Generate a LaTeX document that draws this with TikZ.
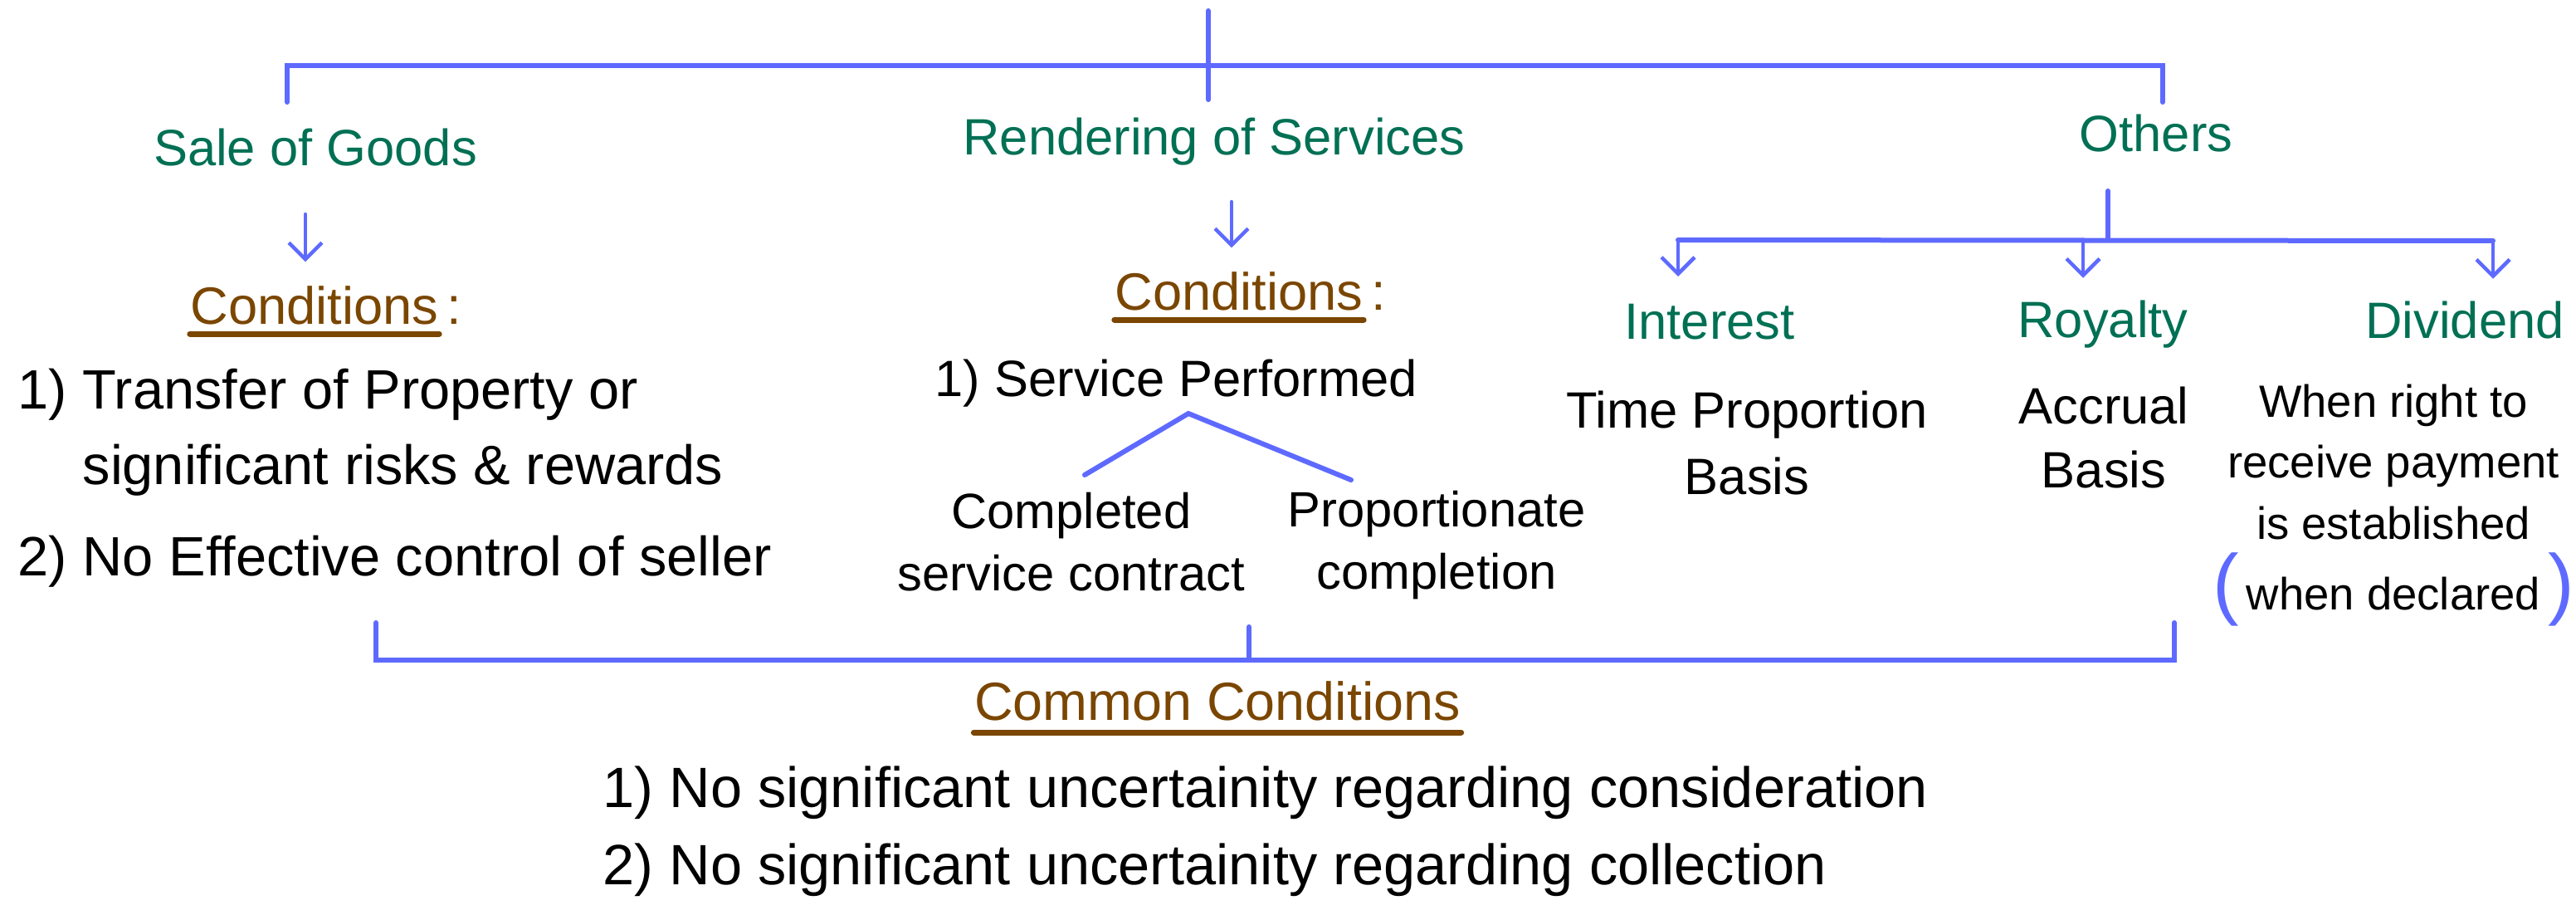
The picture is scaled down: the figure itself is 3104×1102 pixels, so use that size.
\documentclass[tikz,border=0pt]{standalone}
\usepackage{fontspec}
\setmainfont{Liberation Sans}
\usetikzlibrary{arrows.meta,positioning}
\definecolor{penblue}{RGB}{94,106,255}
\definecolor{pengreen}{RGB}{0,112,84}
\definecolor{penbrown}{RGB}{122,70,0}
\tikzset{
  basic/.style  = {inner sep=0pt, font=\fontsize{17.5}{22}\selectfont},
  head/.style   = {basic, text=pengreen},
  cond/.style   = {basic, text=penbrown, font=\fontsize{18}{22}\selectfont},
  item/.style   = {basic, align=left, font=\fontsize{19}{26}\selectfont},
  note/.style   = {basic, align=center},
  link/.style   = {draw=penblue, line width=0.6mm, line cap=round},
  uline/.style  = {draw=penbrown, line width=0.7mm, line cap=round},
  arr/.style    = {link, line width=0.45mm, -{Straight Barb[length=2mm,width=4mm]}}
}
\newcommand{\bluepar}[1]{{\color{penblue}\fontsize{27}{24}\selectfont#1}}

\begin{document}
\begin{tikzpicture}[x=0.1mm,y=-0.1mm]
\useasboundingbox (0,0) rectangle (3104,1102);

% main heads
\node[head, anchor=base] (sog) at (380,200) {Sale of Goods};
\node[head, anchor=base] (ros) at (1463,187) {Rendering of Services};
\node[head, anchor=base] (oth) at (2598,182) {Others};

% top bracket
\coordinate (root) at (1456,13);
\coordinate (rosT) at (1456,120);
\coordinate (bar) at (1456,79);
\coordinate (sogT) at (346,123);
\coordinate (othT) at (2606,123);
\draw[link] (root) -- (rosT);
\draw[link] (sogT) -- (sogT |- bar) -- (othT |- bar) -- (othT);

% sale of goods
\node[cond, anchor=base] (cond1) at (379,390) {Conditions\rlap{\,:}};
\draw[uline] ([yshift=-1.2mm]cond1.base west) -- ([yshift=-1.2mm]cond1.base east);
\coordinate (sogA) at (368,258);
\draw[arr, shorten >=2.8mm] (sogA) -- (sogA |- cond1.north);
\node[item, anchor=north west] (it1) at (21,443)
  {1) Transfer of Property or\\\phantom{1) }significant risks \& rewards};
\node[item, anchor=base west] (it2) at (21,693) {2) No Effective control of seller};

% rendering of services
\node[cond, anchor=base] (cond2) at (1493,373) {Conditions\rlap{\,:}};
\draw[uline] ([yshift=-1.2mm]cond2.base west) -- ([yshift=-1.2mm]cond2.base east);
\coordinate (rosA) at (1484,243);
\draw[arr, shorten >=2.8mm] (rosA) -- (rosA |- cond2.north);
\node[basic, anchor=base west] (sp) at (1126,477) {1) Service Performed};
\coordinate (spv) at (1432,498);
\coordinate (spl) at (1307,572);
\coordinate (spr) at (1628,578);
\draw[link] (spl) -- (spv) -- (spr);
\node[note, anchor=north, font=\fontsize{17}{21.6}\selectfont] (comp) at (1291,592)
  {Completed\\service contract};
\node[note, anchor=north, font=\fontsize{17}{21.6}\selectfont] (prop) at (1731,590)
  {Proportionate\\completion};

% others
\coordinate (othB) at (2540,230);
\coordinate (intT) at (2022,289);
\coordinate (royT) at (2510,289);
\coordinate (divT) at (3004,290);
\draw[link] (othB) -- (othB |- intT);
\draw[link] (intT) -- (divT);
\node[head, anchor=base] (int) at (2060,408) {Interest};
\node[head, anchor=base] (roy) at (2534,406) {Royalty};
\node[head, anchor=base] (div) at (2970,407) {Dividend};
\draw[arr, shorten >=3.2mm] (intT) -- (intT |- int.north);
\draw[arr, shorten >=2.6mm] (royT) -- (royT |- roy.north);
\draw[arr, shorten >=2.6mm] (divT) -- (divT |- div.north);
\node[note, anchor=north, font=\fontsize{17.5}{22.7}\selectfont] (tpb) at (2105,470)
  {Time Proportion\\Basis};
\node[note, anchor=north, font=\fontsize{17.5}{22}\selectfont] (acb) at (2535,465)
  {Accrual\\Basis};
\node[note, anchor=north, font=\fontsize{15.5}{21}\selectfont] (rtr) at (2884,462)
  {When right to\\receive payment\\is established\\[3pt]
   \bluepar{(}\,when declared\,\bluepar{)}};

% bottom bracket
\coordinate (bL) at (453,750);
\coordinate (bR) at (2620,750);
\coordinate (bTick) at (1505,755);
\coordinate (bbar) at (1505,795);
\draw[link] (bL) -- (bL |- bbar) -- (bR |- bbar) -- (bR);
\draw[link] (bTick) -- (bbar);

% common conditions
\node[cond, anchor=base, font=\fontsize{18.4}{22}\selectfont] (cc) at (1467,867) {Common Conditions};
\draw[uline] ([yshift=-1.5mm]cc.base west) -- ([yshift=-1.5mm]cc.base east);
\node[item, anchor=north west, font=\fontsize{19.5}{26.6}\selectfont] (ccl) at (726,922)
  {1) No significant uncertainity regarding consideration\\2) No significant uncertainity regarding collection};
\end{tikzpicture}
\end{document}
